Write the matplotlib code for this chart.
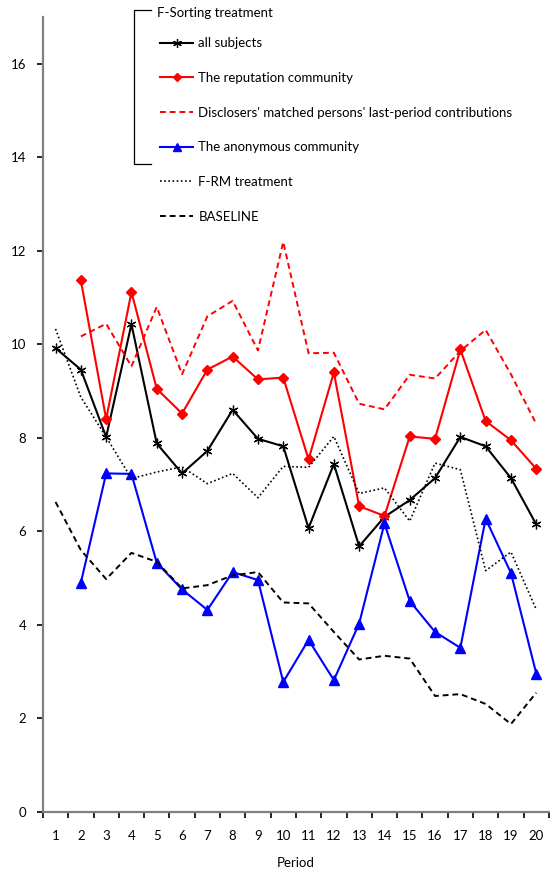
import numpy as np
import matplotlib.pyplot as plt
from matplotlib.lines import Line2D

periods = np.arange(1, 21)

all_subjects = [9.92, 9.46, 8.02, 10.43, 7.88, 7.24, 7.72, 8.60, 7.98, 7.82,
                6.07, 7.44, 5.68, 6.31, 6.67, 7.14, 8.02, 7.82, 7.14, 6.15]
reputation = [np.nan, 11.37, 8.40, 11.12, 9.05, 8.52, 9.46, 9.74, 9.25, 9.29,
              7.54, 9.40, 6.54, 6.33, 8.03, 7.98, 9.89, 8.36, 7.95, 7.34]
disclosers = [np.nan, 10.17, 10.44, 9.53, 10.80, 9.36, 10.60, 10.93, 9.87, 12.19,
              9.81, 9.82, 8.73, 8.61, 9.35, 9.27, 9.86, 10.31, 9.36, 8.30]
anonymous = [np.nan, 4.90, 7.24, 7.23, 5.33, 4.76, 4.32, 5.13, 4.96, 2.78,
             3.68, 2.82, 4.03, 6.17, 4.51, 3.85, 3.51, 6.27, 5.11, 2.96]
f_rm = [10.33, 8.87, 8.02, 7.13, 7.27, 7.38, 7.02, 7.24, 6.72, 7.39,
        7.37, 8.03, 6.81, 6.93, 6.22, 7.46, 7.32, 5.16, 5.56, 4.33]
baseline = [6.63, 5.60, 4.98, 5.54, 5.35, 4.78, 4.85, 5.06, 5.13, 4.48,
            4.46, 3.85, 3.26, 3.34, 3.28, 2.48, 2.52, 2.31, 1.88, 2.55]

labels = ['all subjects', 'The reputation community',
          "Disclosers' matched persons' last-period contributions",
          'The anonymous community', 'F-RM treatment', 'BASELINE']

plt.rcParams['font.family'] = ['Lato', 'DejaVu Sans']
plt.rcParams['font.size'] = 9.5

fig = plt.figure(figsize=(5.5, 8.74), dpi=100)
ax = fig.add_axes([0.078, 0.071, 0.92, 0.9095])

star = (6, 2, 0)
l1, = ax.plot(periods, all_subjects, color='black', lw=1.5, marker=star,
              ms=7, mew=0.9)
l2, = ax.plot(periods, reputation, color='red', lw=1.5, marker='D', ms=5)
l3, = ax.plot(periods, disclosers, color='red', lw=1.4, ls=(0, (3, 2)))
l4, = ax.plot(periods, anonymous, color='blue', lw=1.5, marker='^', ms=7)
l5, = ax.plot(periods, f_rm, color='black', lw=1.2, ls=(0, (1, 1.5)))
l6, = ax.plot(periods, baseline, color='black', lw=1.4, ls=(0, (3, 2)))

ax.set_xlim(0.5, 20.5)
ax.set_ylim(0, 17)
ax.set_yticks(np.arange(0, 17, 2))
ax.set_xticks(periods)
ax.set_xticks(np.arange(0.5, 21, 1), minor=True)
ax.tick_params(axis='x', which='major', length=0, pad=13, colors='black')
ax.tick_params(axis='x', which='minor', length=4, width=1.2, color='black')
ax.tick_params(axis='y', length=4, width=1.2, color='black', pad=8)
for s in ['top', 'right']:
    ax.spines[s].set_visible(False)
for s in ['left', 'bottom']:
    ax.spines[s].set_color('#808080')
    ax.spines[s].set_linewidth(1.6)
ax.set_xlabel('Period', labelpad=11)

# legend block with bracket
leg = ax.legend([l1, l2, l3, l4, l5, l6], labels, loc='upper left',
                bbox_to_anchor=(0.291, 0.9575), bbox_transform=fig.transFigure,
                frameon=False, handlelength=2.5, handletextpad=0.4,
                labelspacing=1.72, borderaxespad=0, borderpad=0,
                markerscale=0.9)
fig.text(0.285, 0.985, 'F-Sorting treatment', va='center', ha='left')
fig.add_artist(Line2D([0.275, 0.243, 0.243, 0.275],
                      [0.989, 0.989, 0.812, 0.812],
                      transform=fig.transFigure, color='black', lw=0.9))

fig.savefig('out.png', dpi=100)
